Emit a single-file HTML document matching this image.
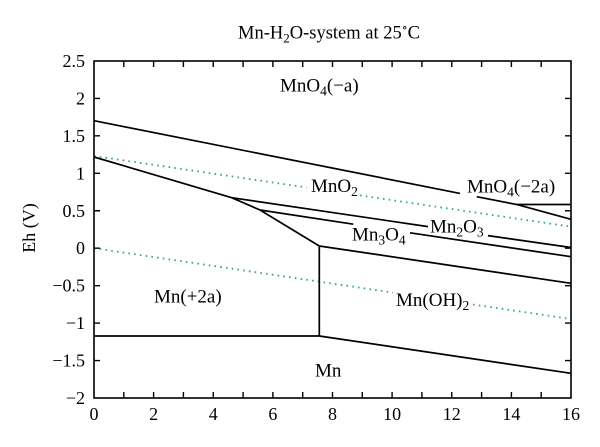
<!DOCTYPE html>
<html>
<head>
<meta charset="utf-8">
<style>
  html,body{margin:0;padding:0;background:#fff;}
  svg{display:block;}
  text{font-family:"Liberation Serif","DejaVu Serif",serif;fill:#000;}
</style>
</head>
<body>
<svg width="600" height="447" viewBox="0 0 600 447" xmlns="http://www.w3.org/2000/svg">
  <rect x="0" y="0" width="600" height="447" fill="#fff"/>

  <!-- Title -->
  <text x="238" y="38.5" font-size="18.5">Mn-H<tspan font-size="13" dy="4">2</tspan><tspan dy="-4">O-system at 25</tspan><tspan font-size="12" dy="-7">∘</tspan><tspan dy="7">C</tspan></text>

  <!-- Y axis label -->
  <text transform="translate(35,228) rotate(-90)" text-anchor="middle" font-size="18">Eh (V)</text>

  <!-- Dotted water lines -->
  <g stroke="#3f9c9c" stroke-width="1.8" stroke-dasharray="1.6 4.2" fill="none">
    <line x1="94" y1="156" x2="306.7" y2="187.5"/>
    <line x1="360" y1="195.4" x2="571" y2="226.7"/>
    <line x1="94" y1="248.2" x2="393" y2="292.6"/>
    <line x1="473" y1="304.5" x2="571" y2="319"/>
  </g>

  <!-- Solid boundaries -->
  <g stroke="#000" stroke-width="1.7" fill="none" stroke-linejoin="miter">
    <!-- MnO4-/MnO2 upper line -->
    <polyline points="94,120.7 460,193.4"/>
    <polyline points="476.7,196.7 517,204.6 571,219.3"/>
    <!-- horizontal MnO4(-2a) -->
    <line x1="517" y1="204.5" x2="571" y2="204.5"/>
    <!-- Mn(+2a) upper-right boundary -->
    <polyline points="94,157 231.7,197.7 260,210 319.3,246"/>
    <!-- MnO2/Mn2O3 -->
    <line x1="231.7" y1="197.7" x2="428" y2="226.6"/>
    <line x1="488" y1="235.6" x2="571" y2="247.5"/>
    <!-- Mn2O3/Mn3O4 -->
    <line x1="260" y1="210" x2="353.3" y2="224.2"/>
    <line x1="410" y1="232.8" x2="571" y2="256.7"/>
    <!-- Mn3O4/Mn(OH)2 -->
    <line x1="319.3" y1="246" x2="571" y2="283.3"/>
    <!-- vertical -->
    <line x1="319.3" y1="245.5" x2="319.3" y2="336"/>
    <!-- Mn(+2a)/Mn -->
    <line x1="94" y1="336" x2="319.3" y2="336"/>
    <!-- Mn(OH)2/Mn -->
    <line x1="319.3" y1="336" x2="571" y2="373.3"/>
  </g>

  <!-- Frame -->
  <rect x="94" y="61" width="477" height="337" fill="none" stroke="#000" stroke-width="1.6"/>

  <!-- Ticks -->
  <g stroke="#000" stroke-width="1.4">
    <!-- bottom & top x ticks every 1 -->
    <path d="M123.8,398v-6M153.6,398v-6M183.4,398v-6M213.25,398v-6M243.1,398v-6M272.9,398v-6M302.7,398v-6M332.5,398v-6M362.3,398v-6M392.1,398v-6M421.9,398v-6M451.75,398v-6M481.6,398v-6M511.4,398v-6M541.2,398v-6"/>
    <path d="M123.8,61v6M153.6,61v6M183.4,61v6M213.25,61v6M243.1,61v6M272.9,61v6M302.7,61v6M332.5,61v6M362.3,61v6M392.1,61v6M421.9,61v6M451.75,61v6M481.6,61v6M511.4,61v6M541.2,61v6"/>
    <!-- left & right y ticks every 0.5 -->
    <path d="M94,98.4h6M94,135.85h6M94,173.3h6M94,210.75h6M94,248.2h6M94,285.65h6M94,323.1h6M94,360.55h6"/>
    <path d="M571,98.4h-6M571,135.85h-6M571,173.3h-6M571,210.75h-6M571,248.2h-6M571,285.65h-6M571,323.1h-6M571,360.55h-6"/>
  </g>

  <!-- Y tick labels -->
  <g font-size="18" text-anchor="end">
    <text x="85" y="67">2.5</text>
    <text x="85" y="104.4">2</text>
    <text x="85" y="141.85">1.5</text>
    <text x="85" y="179.3">1</text>
    <text x="85" y="216.75">0.5</text>
    <text x="85" y="254.2">0</text>
    <text x="85" y="291.65">−0.5</text>
    <text x="85" y="329.1">−1</text>
    <text x="85" y="366.55">−1.5</text>
    <text x="85" y="404">−2</text>
  </g>

  <!-- X tick labels -->
  <g font-size="18" text-anchor="middle">
    <text x="94" y="420">0</text>
    <text x="153.6" y="420">2</text>
    <text x="213.25" y="420">4</text>
    <text x="272.9" y="420">6</text>
    <text x="332.5" y="420">8</text>
    <text x="392.1" y="420">10</text>
    <text x="451.75" y="420">12</text>
    <text x="511.4" y="420">14</text>
    <text x="571" y="420">16</text>
  </g>

  <!-- Region labels -->
  <g font-size="19">
    <text x="280" y="91.7">MnO<tspan font-size="13.5" dy="4">4</tspan><tspan dy="-4">(−a)</tspan></text>
    <text x="311" y="192">MnO<tspan font-size="13.5" dy="4">2</tspan></text>
    <text x="467" y="192.5">MnO<tspan font-size="13.5" dy="4">4</tspan><tspan dy="-4">(−2a)</tspan></text>
    <text x="430" y="232.5">Mn<tspan font-size="13.5" dy="4">2</tspan><tspan dy="-4">O</tspan><tspan font-size="13.5" dy="4">3</tspan></text>
    <text x="352" y="240.7">Mn<tspan font-size="13.5" dy="4">3</tspan><tspan dy="-4">O</tspan><tspan font-size="13.5" dy="4">4</tspan></text>
    <text x="154" y="302.5">Mn(+2a)</text>
    <text x="396" y="306">Mn(OH)<tspan font-size="13.5" dy="4">2</tspan></text>
    <text x="315" y="376.7">Mn</text>
  </g>
</svg>
</body>
</html>
